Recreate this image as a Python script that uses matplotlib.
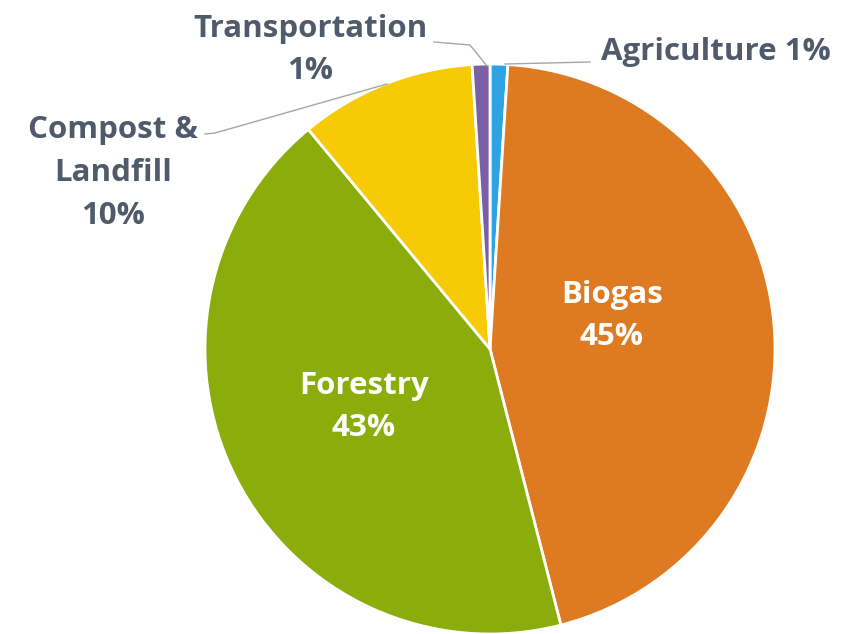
import matplotlib
matplotlib.use("Agg")
import matplotlib.pyplot as plt

labels = ['Agriculture', 'Biogas', 'Forestry', 'Compost &\nLandfill', 'Transportation']
values = [1, 45, 43, 10, 1]
colors = ['#2EA3E3', '#DE7A22', '#8BAD0B', '#F6CB05', '#7A5EA6']

text_col = '#4F5B6B'
plt.rcParams['font.family'] = ['Open Sans', 'DejaVu Sans']

fig = plt.figure(figsize=(8.46, 6.34), dpi=100)
ax = fig.add_axes([0, 0, 1, 1])

# pie in pixel-like coordinates (origin bottom-left)
cx, cy, r = 490, 634 - 349, 285
wedges, _ = ax.pie(values, colors=colors, startangle=90, counterclock=False,
                   center=(cx, cy), radius=r,
                   wedgeprops=dict(edgecolor='white', linewidth=2))
ax.set_xlim(0, 846)
ax.set_ylim(0, 634)
ax.set_aspect('equal')
ax.axis('off')

fs = 22.5
ls = 1.55
# inside labels
ax.text(612, 634 - 316, 'Biogas\n45%', color='white', fontsize=fs, fontweight='bold',
        ha='center', va='center', linespacing=ls)
ax.text(364, 634 - 407, 'Forestry\n43%', color='white', fontsize=fs, fontweight='bold',
        ha='center', va='center', linespacing=ls)

# outside labels with leader lines
ax.text(716, 634 - 52, 'Agriculture 1%', color=text_col, fontsize=fs, fontweight='bold',
        ha='center', va='center')
ax.plot([505, 590], [634 - 64, 634 - 62], color='#A6A6A6', lw=1)

ax.text(310, 634 - 50, 'Transportation\n1%', color=text_col, fontsize=fs, fontweight='bold',
        ha='center', va='center', linespacing=ls)
ax.plot([487, 470, 434], [634 - 66, 634 - 45, 634 - 42], color='#A6A6A6', lw=1)

ax.text(113, 634 - 173, 'Compost &\nLandfill\n10%', color=text_col, fontsize=fs, fontweight='bold',
        ha='center', va='center', linespacing=ls)
ax.plot([387, 215, 205], [634 - 84, 634 - 133, 634 - 134], color='#A6A6A6', lw=1)

fig.savefig('out.png', dpi=100)
